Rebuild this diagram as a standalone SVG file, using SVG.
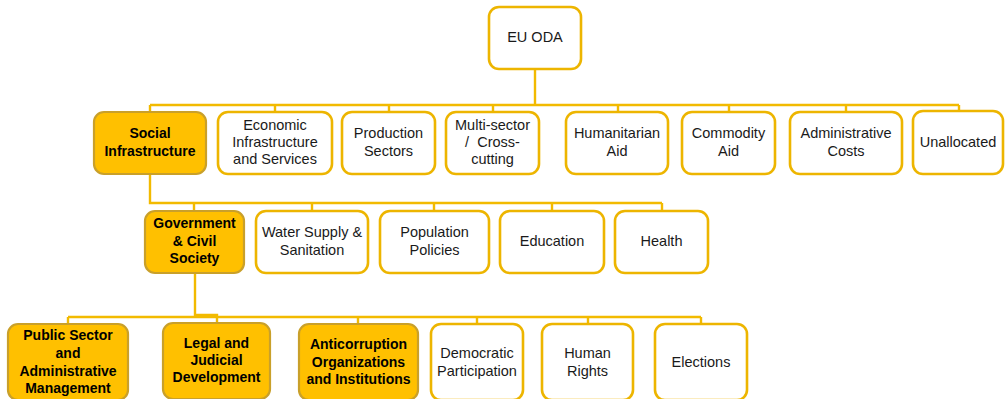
<svg xmlns="http://www.w3.org/2000/svg" width="1005" height="399" viewBox="0 0 1005 399">
<style>
.w{fill:#ffffff;stroke:#EDB500;stroke-width:2.6}
.f{fill:#FFC000;stroke:#C9A02A;stroke-width:2.2}
.c{fill:none;stroke:#F2BA00;stroke-width:2.4}
text{font-family:"Liberation Sans",Arial,sans-serif;font-size:14.5px;fill:#1a1a1a;text-anchor:middle}
.b{font-weight:bold;font-size:14px;fill:#000}
</style>
<rect width="1005" height="399" fill="#ffffff"/>
<g id="connectors">
<path class="c" d="M535 69V105M150 105H959M150 105V111M275 105V111M389 105V111M493 105V111M618 105V111M729 105V111M846 105V111M959 105V111"/>
<path class="c" d="M150 174V203H662M194 203V210M312 203V210M434 203V210M552 203V210M662 203V210"/>
<path class="c" d="M195 273V315H217V317M68 317H701M68 317V323M217 317V323M358 317V323M477 317V323M588 317V323M701 317V323"/>
</g>
<g id="eu-oda"><rect class="w" x="489" y="7" width="92" height="62" rx="10"/><text x="535" y="42">EU ODA</text></g>
<g id="social-infrastructure"><rect class="f" x="94" y="112" width="112" height="62" rx="10"/><text class="b" x="150" y="138">Social</text><text class="b" x="150" y="156">Infrastructure</text></g>
<g id="economic"><rect class="w" x="218" y="112" width="114" height="62" rx="10"/><text x="275" y="130">Economic</text><text x="275" y="147">Infrastructure</text><text x="275" y="164">and Services</text></g>
<g id="production"><rect class="w" x="342" y="112" width="93" height="62" rx="10"/><text x="388.5" y="138">Production</text><text x="388.5" y="156">Sectors</text></g>
<g id="multi-sector"><rect class="w" x="446" y="112" width="93" height="62" rx="10"/><text x="492.5" y="130">Multi-sector</text><text x="492.5" y="147" xml:space="preserve">/  Cross-</text><text x="492.5" y="164">cutting</text></g>
<g id="humanitarian"><rect class="w" x="566" y="112" width="102" height="62" rx="10"/><text x="617" y="138">Humanitarian</text><text x="617" y="156">Aid</text></g>
<g id="commodity"><rect class="w" x="682" y="112" width="93" height="62" rx="10"/><text x="728.5" y="138">Commodity</text><text x="728.5" y="156">Aid</text></g>
<g id="administrative-costs"><rect class="w" x="790" y="112" width="112" height="62" rx="10"/><text x="846" y="138">Administrative</text><text x="846" y="156">Costs</text></g>
<g id="unallocated"><rect class="w" x="913" y="111" width="90" height="63" rx="10"/><text x="958" y="147">Unallocated</text></g>
<g id="government"><rect class="f" x="145" y="211" width="99" height="62" rx="10"/><text class="b" x="194.5" y="228">Government</text><text class="b" x="194.5" y="246">&amp; Civil</text><text class="b" x="194.5" y="263">Society</text></g>
<g id="water"><rect class="w" x="256" y="211" width="112" height="62" rx="10"/><text x="312" y="237">Water Supply &amp;</text><text x="312" y="255">Sanitation</text></g>
<g id="population"><rect class="w" x="380" y="211" width="109" height="62" rx="10"/><text x="434.5" y="237">Population</text><text x="434.5" y="255">Policies</text></g>
<g id="education"><rect class="w" x="500" y="211" width="104" height="62" rx="10"/><text x="552" y="246">Education</text></g>
<g id="health"><rect class="w" x="615" y="211" width="93" height="62" rx="10"/><text x="661.5" y="246">Health</text></g>
<g id="public-sector"><rect class="f" x="8" y="324" width="120" height="76" rx="10"/><text class="b" x="68" y="340">Public Sector</text><text class="b" x="68" y="358">and</text><text class="b" x="68" y="376">Administrative</text><text class="b" x="68" y="393">Management</text></g>
<g id="legal"><rect class="f" x="163" y="323" width="107" height="76" rx="10"/><text class="b" x="216.5" y="348">Legal and</text><text class="b" x="216.5" y="365">Judicial</text><text class="b" x="216.5" y="382">Development</text></g>
<g id="anticorruption"><rect class="f" x="299" y="324" width="119" height="76" rx="10"/><text class="b" x="358.5" y="349">Anticorruption</text><text class="b" x="358.5" y="367">Organizations</text><text class="b" x="358.5" y="384">and Institutions</text></g>
<g id="democratic"><rect class="w" x="431" y="324" width="92" height="76" rx="10"/><text x="477" y="358">Democratic</text><text x="477" y="376">Participation</text></g>
<g id="human-rights"><rect class="w" x="542" y="324" width="91" height="76" rx="10"/><text x="587.5" y="358">Human</text><text x="587.5" y="376">Rights</text></g>
<g id="elections"><rect class="w" x="655" y="324" width="92" height="76" rx="10"/><text x="701" y="367">Elections</text></g>
</svg>
